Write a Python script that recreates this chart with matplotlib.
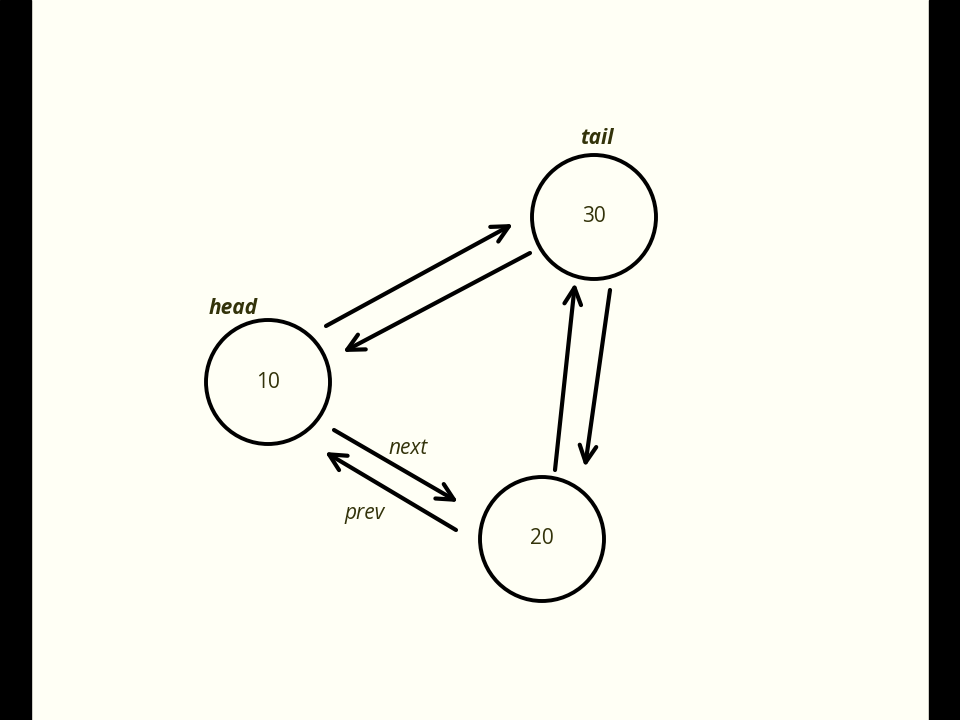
import matplotlib.pyplot as plt
from matplotlib.patches import Circle, Rectangle

# node values and their centres (pixel layout)
values = [10, 30, 20]
centres = [(268, 382), (594, 217), (542, 539)]
radius = 62

# links (start, end) in pixels
links = [
    ((326, 326), (513, 224)),
    ((530, 253), (343, 352)),
    ((334, 430), (458, 502)),
    ((456, 530), (325, 452)),
    ((555, 470), (575, 283)),
    ((610, 290), (585, 467)),
]
labels = [("next", (408, 449), "normal"), ("prev", (365, 514), "normal"),
          ("head", (233, 309), "bold"), ("tail", (597, 138), "bold")]

txt_col = "#33330a"
fig = plt.figure(figsize=(9.6, 7.2), dpi=100)
ax = fig.add_axes([0, 0, 1, 1])
ax.set_xlim(0, 960)
ax.set_ylim(720, 0)
ax.axis("off")
fig.patch.set_facecolor("#fffff5")

ax.add_patch(Rectangle((0, 0), 31, 720, color="black"))
ax.add_patch(Rectangle((929, 0), 31, 720, color="black"))

for v, (x, y) in zip(values, centres):
    ax.add_patch(Circle((x, y), radius, fill=False, lw=2.8, ec="black"))
    ax.text(x, y, str(v), ha="center", va="center", fontsize=15,
            family="Open Sans", color=txt_col)

for s, e in links:
    ax.annotate("", xy=e, xytext=s,
                arrowprops=dict(arrowstyle="->,head_length=1.2,head_width=0.6",
                                lw=3, color="black", shrinkA=0, shrinkB=0))

for t, (x, y), w in labels:
    ax.text(x, y, t, ha="center", va="center", fontsize=15, style="italic",
            weight=w, family="Open Sans", color=txt_col)

fig.savefig("out.png", dpi=100, facecolor=fig.get_facecolor())
